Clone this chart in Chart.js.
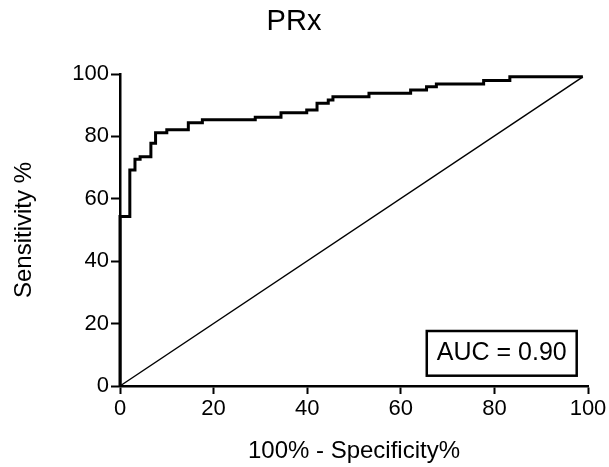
<!DOCTYPE html>
<html>
<head>
<meta charset="utf-8">
<script src="https://cdn.jsdelivr.net/npm/chart.js@4"></script>
<style>
  html, body { margin: 0; padding: 0; background: #fff; }
  #wrap { width: 609px; height: 467px; }
</style>
</head>
<body>
<div id="wrap"><canvas id="c" width="609" height="467"></canvas></div>
<script>
// ---- data ----
const chartTitle = 'PRx';
const xTitle = '100% - Specificity%';
const yTitle = 'Sensitivity %';
const aucLabel = 'AUC = 0.90';
const xTicks = [0, 20, 40, 60, 80, 100];
const yTicks = [0, 20, 40, 60, 80, 100];
const fpr = [0, 0, 2.1, 3.2, 4.3, 6.6, 7.6, 10.0, 14.6, 17.6, 28.9, 34.4, 39.9, 42.1, 44.5, 45.5, 53.2, 62.1, 65.5, 67.6, 77.7, 83.3, 98.9];
const tpr = [0, 54.3, 69.2, 72.7, 73.5, 77.8, 81.2, 82.1, 84.4, 85.3, 86.1, 87.6, 88.5, 90.6, 91.7, 92.7, 93.8, 94.9, 95.9, 96.8, 97.9, 99.1, 99.1];
const refX = [0, 98.9];
const refY = [0, 99.1];

const FONT = "'Liberation Sans', Arial, Helvetica, sans-serif";

const rocPoints = fpr.map((x, i) => ({ x: x, y: tpr[i] }));
const refPoints = refX.map((x, i) => ({ x: x, y: refY[i] }));

const aucBox = {
  id: 'aucBox',
  afterDraw(chart) {
    const { ctx, chartArea } = chart;
    ctx.save();
    ctx.font = '25px ' + FONT;
    const tw = ctx.measureText(aucLabel).width;
    const w = tw + 20, h = 44.7;
    const right = chartArea.right - 11.3;
    const bottom = chartArea.bottom - 10.3;
    const left = right - w, top = bottom - h;
    ctx.lineWidth = 2.5;
    ctx.strokeStyle = '#000';
    ctx.fillStyle = '#fff';
    ctx.fillRect(left, top, w, h);
    ctx.strokeRect(left, top, w, h);
    ctx.fillStyle = '#000';
    ctx.textAlign = 'center';
    ctx.textBaseline = 'middle';
    ctx.fillText(aucLabel, left + w / 2, top + h / 2);
    ctx.restore();
  }
};

new Chart(document.getElementById('c'), {
  type: 'scatter',
  data: {
    datasets: [
      {
        data: rocPoints,
        showLine: true,
        stepped: true,
        borderColor: '#000',
        borderWidth: 3,
        borderJoinStyle: 'miter',
        pointRadius: 0,
        clip: 5
      },
      {
        data: refPoints,
        showLine: true,
        borderColor: '#000',
        borderWidth: 1.5,
        pointRadius: 0,
        clip: 5
      }
    ]
  },
  options: {
    responsive: false,
    animation: false,
    devicePixelRatio: 1,
    layout: { padding: { left: 0, right: 21, top: 0, bottom: 0 } },
    plugins: {
      legend: { display: false },
      tooltip: { enabled: false },
      title: {
        display: true,
        text: chartTitle,
        color: '#000',
        font: { family: FONT, size: 29, weight: 'normal' },
        padding: { top: 4.6, bottom: 34.6 }
      }
    },
    scales: {
      x: {
        type: 'linear',
        min: 0, max: 100,
        afterFit(scale) { scale.height = 81; },
        afterBuildTicks(scale) { scale.ticks = xTicks.map(v => ({ value: v })); },
        ticks: { color: '#000', font: { family: FONT, size: 22 }, padding: 2, maxRotation: 0 },
        grid: { drawOnChartArea: false, drawTicks: true, tickLength: 8, tickColor: '#000', tickWidth: 2, color: '#000' },
        border: { display: true, color: '#000', width: 2.5 },
        title: { display: true, text: xTitle, color: '#000', font: { family: FONT, size: 24 }, padding: { top: 0, bottom: 1 } }
      },
      y: {
        type: 'linear',
        min: 0, max: 100,
        afterFit(scale) { scale.width = 120; },
        afterBuildTicks(scale) { scale.ticks = yTicks.map(v => ({ value: v })); },
        ticks: { color: '#000', font: { family: FONT, size: 22 }, padding: 2 },
        grid: { drawOnChartArea: false, drawTicks: true, tickLength: 9, tickColor: '#000', tickWidth: 2, color: '#000' },
        border: { display: true, color: '#000', width: 2.5 },
        title: { display: true, text: yTitle, color: '#000', font: { family: FONT, size: 24 }, padding: { top: 10, bottom: 0 } }
      }
    }
  },
  plugins: [aucBox]
});
</script>
</body>
</html>
